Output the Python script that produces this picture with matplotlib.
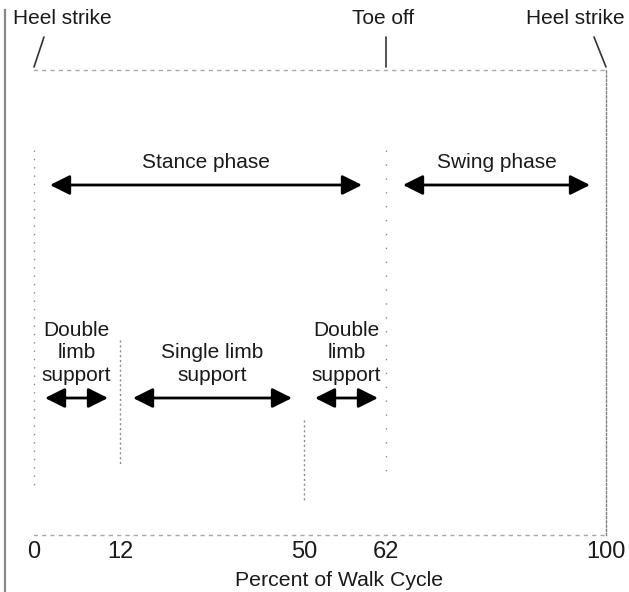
import numpy as np
import matplotlib
matplotlib.use("Agg")
import matplotlib.pyplot as plt
from matplotlib.lines import Line2D

plt.rcParams['font.family'] = ['Liberation Sans', 'DejaVu Sans']

# ---- data ----
tick_values = [0, 12, 50, 62, 100]
tick_labels = ["0", "12", "50", "62", "100"]
event_names = ["Heel strike", "Toe off", "Heel strike"]
event_pct = [0, 62, 100]
phase_names = ["Stance phase", "Swing phase"]
phase_start = [0, 62]
phase_end = [62, 100]
support_names = ["Double\nlimb\nsupport", "Single limb\nsupport", "Double\nlimb\nsupport"]
support_start = [0, 12, 50]
support_end = [12, 50, 62]
xlabel = "Percent of Walk Cycle"

# ---- schematic (non-linear) axis scale, as in the drawing ----
BP = np.array([0, 12, 50, 62, 100], float)
SP = np.array([0, 86, 270, 352, 572], float)

def fwd(x):
    x = np.asarray(x, float)
    y = np.interp(x, BP, SP)
    y = np.where(x < BP[0], SP[0] + (x - BP[0]) * (SP[1] - SP[0]) / (BP[1] - BP[0]), y)
    y = np.where(x > BP[-1], SP[-1] + (x - BP[-1]) * (SP[-1] - SP[-2]) / (BP[-1] - BP[-2]), y)
    return y

def inv(y):
    y = np.asarray(y, float)
    x = np.interp(y, SP, BP)
    x = np.where(y < SP[0], BP[0] + (y - SP[0]) * (BP[1] - BP[0]) / (SP[1] - SP[0]), x)
    x = np.where(y > SP[-1], BP[-1] + (y - SP[-1]) * (BP[-1] - BP[-2]) / (SP[-1] - SP[-2]), x)
    return x

W, H = 629, 592
fig = plt.figure(figsize=(W / 100, H / 100), dpi=100)
ax = fig.add_axes([34 / W, 1 - 535 / H, 572 / W, 465 / H])
ax.set_xscale('function', functions=(fwd, inv))
ax.set_xlim(0, 100)
ax.set_ylim(535, 70)

TXT = '#1a1a1a'
FS = 15

# frame: dotted faint lines
for s in ['top', 'bottom']:
    ax.spines[s].set_linestyle((0, (2, 4)))
    ax.spines[s].set_color('#a8a8a8')
    ax.spines[s].set_linewidth(1.0)
ax.spines['right'].set_linestyle((0, (1.5, 1.5)))
ax.spines['right'].set_color('#808080')
ax.spines['right'].set_linewidth(1.0)
ax.spines['left'].set_visible(False)

ax.set_xticks(tick_values)
ax.set_xticklabels(tick_labels, fontsize=17, color=TXT)
ax.tick_params(axis='x', length=0, pad=4)
ax.set_yticks([])
ax.set_xlabel(xlabel, fontsize=15.3, color=TXT, labelpad=6)
ax.xaxis.label.set_x((339 - 34) / 572)

# faint dotted vertical markers
vlines = [(0, 150, 490, (0, (1, 5))), (12, 340, 465, (0, (1.5, 2))),
          (50, 420, 500, (0, (1.5, 2))), (62, 150, 480, (0, (1, 9)))]
for xv, y0, y1, ls in vlines:
    ax.plot([xv, xv], [y0, y1], color='#8a8a8a', lw=1.0, ls=ls, clip_on=False)

# events above frame
ptr_dx = [10, 0, -12]
txt_dx = [28, -3, -31]
for name, p, pdx, tdx in zip(event_names, event_pct, ptr_dx, txt_dx):
    ax.annotate('', xy=(p, 67), xytext=(pdx, 30), textcoords='offset pixels',
                xycoords='data', annotation_clip=False,
                arrowprops=dict(arrowstyle='-', color='#333333', lw=1.2,
                                shrinkA=0, shrinkB=0))
    ax.annotate(name, xy=(p, 18), xytext=(tdx, 0), textcoords='offset pixels',
                ha='center', va='center', fontsize=FS, color=TXT,
                annotation_clip=False)

PX2PT = 0.72

def draw_span(a, b, y, gapA, gapB, label, ly, va):
    ax.annotate('', xy=(b, y), xytext=(a, y), annotation_clip=False,
                arrowprops=dict(arrowstyle='<|-|>,head_length=0.6,head_width=0.3',
                                mutation_scale=20, color='black', lw=2.0,
                                shrinkA=gapA * PX2PT, shrinkB=gapB * PX2PT))
    mid = inv((fwd(a) + gapA + fwd(b) - gapB) / 2.0)
    ax.text(float(mid), ly, label, ha='center', va=va, fontsize=FS, color=TXT,
            linespacing=1.25)

phase_gaps = [(16, 24), (17, 16)]
for name, a, b, g in zip(phase_names, phase_start, phase_end, phase_gaps):
    draw_span(a, b, 185, g[0], g[1], name, 162, 'center')

support_gaps = [(11, 12), (13, 12), (11, 8)]
for name, a, b, g in zip(support_names, support_start, support_end, support_gaps):
    draw_span(a, b, 398, g[0], g[1], name, 385, 'bottom')

# scanned left border line
fig.add_artist(Line2D([5 / W, 5 / W], [0, 1 - 10 / H], transform=fig.transFigure,
                      color='#888888', lw=1.6))

fig.savefig('out.png', dpi=100)
